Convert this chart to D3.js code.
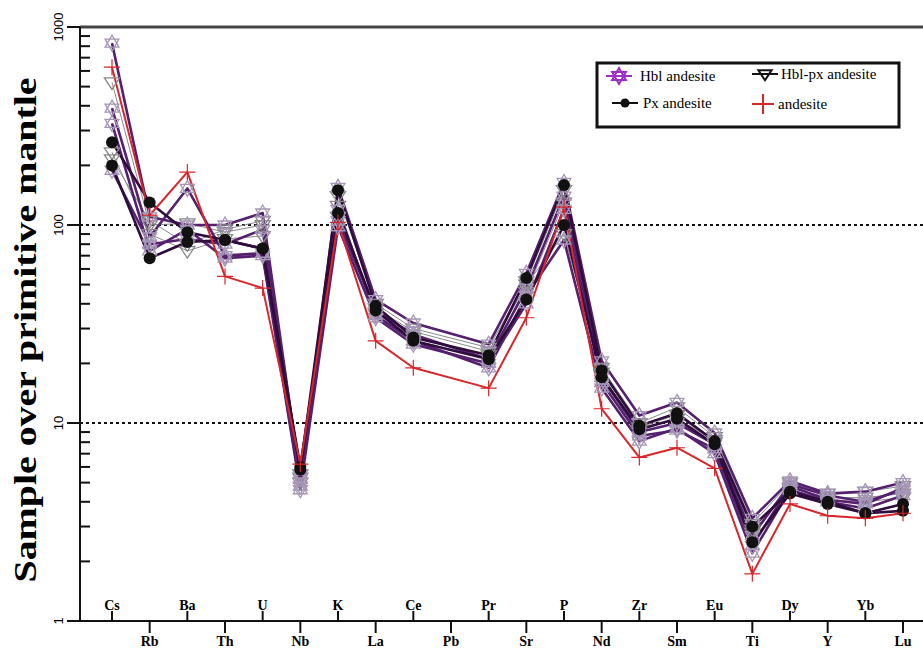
<!DOCTYPE html>
<html>
<head>
<meta charset="utf-8">
<script src="https://cdn.jsdelivr.net/npm/d3@7"></script>
<style>
  body { margin: 0; background: #fff; }
  svg { display: block; }
</style>
</head>
<body>
<svg></svg>
<script>
// element order on the spider diagram (Pb has no data)
var elements = ["Cs", "Rb", "Ba", "Th", "U", "Nb", "K", "La", "Ce", "Pb", "Pr", "Sr",
                "P", "Nd", "Zr", "Sm", "Eu", "Ti", "Dy", "Y", "Yb", "Lu"];
var upperLabels = ["Cs", "Ba", "U", "K", "Ce", "Pr", "P", "Zr", "Eu", "Dy", "Yb"];
var yMajorTicks = [1, 10, 100, 1000];

// Hbl andesite samples
var hbl1 = [829, 110, 100, 100, 115, 5.2, 155, 42, 32, null, 25, 57, 164, 20.6, 10.9, 12.7, 8.9, 3.3, 5.1, 4.4, 4.5, 5.0];
var hbl2 = [389, 87, 153, 70, 72, 4.8, 120, 35, 26, null, 19, 44, 84, 15, 8.1, 9.4, 7.0, 2.2, 4.6, 4.0, 3.7, 4.3];
var hbl3 = [326, 74, 95, 68, 70, 4.6, 98, 34, 25, null, 20, 40, 120, 16, 8.6, 9.2, 7.4, 2.4, 4.8, 4.1, 3.9, 4.7];
var hbl4 = [189, 80, 85, 80, 95, 5.5, 105, 37, 28, null, 21, 48, 140, 17, 9.0, 10, 7.8, 2.7, 4.9, 4.3, 4.0, 4.6];
// Hbl-px andesite samples
var hblpx1 = [526, 100, 102, 92, 100, 5.5, 140, 40, 30, null, 24, 52, 150, 19, 10, 12, 8.5, 3.1, 5.0, 4.4, 4.5, 4.8];
var hblpx2 = [233, 90, 74, 85, 88, 5.0, 110, 38, 29, null, 23, 50, 90, 18, 9.5, 11, 8.0, 2.8, 4.7, 4.2, 4.2, 4.4];
var hblpx3 = [215, 105, 80, 95, 105, 5.3, 125, 36, 27, null, 22, 46, 130, 17.5, 9.2, 10.5, 8.2, 2.9, 4.6, 4.1, 4.0, 4.2];
// Px andesite samples
var px1 = [262, 130, 92, 84, 76, 5.8, 150, 39, 27, null, 22, 54, 159, 18.4, 9.7, 11.2, 8.1, 3.0, 4.5, 4.0, 3.5, 3.9];
var px2 = [200, 68, 82, 84, 76, 6.0, 115, 37, 26, null, 21, 42, 100, 17, 9.3, 10.5, 7.8, 2.5, 4.4, 3.9, 3.5, 3.6];
// andesite
var andesite1 = [627, 112, 185, 55, 48, 6.2, 103, 26, 19, null, 15, 34, 123, 11.8, 6.7, 7.5, 5.9, 1.73, 3.9, 3.4, 3.3, 3.5];

var svgWidth = 923, svgHeight = 653;
var svg = d3.select("svg").attr("width", svgWidth).attr("height", svgHeight);

var x = d3.scalePoint().domain(elements).range([112, 903]);
var y = d3.scaleLog().domain([1, 1000]).range([621, 27]);
var axisLeft = 80, axisRight = 923;
var serif = "'Liberation Serif', 'Times New Roman', serif";

function hexagram(r) {
    var h = r * 0.866;
    return "M0," + (-r) + "L" + h + "," + (r / 2) + "L" + (-h) + "," + (r / 2) + "Z" +
           "M0," + r + "L" + h + "," + (-r / 2) + "L" + (-h) + "," + (-r / 2) + "Z";
}
function downTriangle(r) {
    var h = r * 0.95;
    return "M" + (-h) + "," + (-r * 0.55) + "L" + h + "," + (-r * 0.55) + "L0," + (r * 0.9) + "Z";
}
function plusSign(r) {
    return "M" + (-r) + ",0L" + r + ",0M0," + (-r) + "L0," + r;
}

function points(values) {
    var pts = [];
    values.forEach(function (v, i) {
        if (v != null) pts.push([elements[i], v]);
    });
    return pts;
}

var line = d3.line()
    .x(function (d) { return x(d[0]); })
    .y(function (d) { return y(d[1]); });

// dotted reference lines at 10 and 100
svg.selectAll("line.ref").data([10, 100]).enter()
    .append("line")
    .attr("class", "ref")
    .attr("x1", axisLeft).attr("x2", axisRight)
    .attr("y1", function (d) { return y(d); })
    .attr("y2", function (d) { return y(d); })
    .attr("stroke", "#111")
    .attr("stroke-width", 2)
    .attr("stroke-dasharray", "3,3");

// top frame
svg.append("line")
    .attr("x1", axisLeft).attr("x2", axisRight)
    .attr("y1", y(1000)).attr("y2", y(1000))
    .attr("stroke", "#444").attr("stroke-width", 3);

var groups = [
    { name: "hblpx", data: [hblpx1, hblpx2, hblpx3], color: "#8a8a8a", width: 1, marker: "tri", mcolor: "#888" },
    { name: "hbl", data: [hbl1, hbl2, hbl3, hbl4], color: "#55206e", width: 2.6, marker: "hex", mcolor: "#a596b6" },
    { name: "px", data: [px1, px2], color: "#2e0d3c", width: 2.6, marker: "dot", mcolor: "#111" },
    { name: "and", data: [andesite1], color: "#d8262a", width: 2, marker: "plus", mcolor: "#d8262a" }
];

function drawMarkers(g, grp, pts) {
    if (grp.marker === "dot") {
        g.selectAll(null).data(pts).enter()
            .append("circle")
            .attr("cx", function (d) { return x(d[0]); })
            .attr("cy", function (d) { return y(d[1]); })
            .attr("r", 6)
            .attr("fill", grp.mcolor);
        return;
    }
    g.selectAll(null).data(pts).enter()
        .append("path")
        .attr("transform", function (d) { return "translate(" + x(d[0]) + "," + y(d[1]) + ")"; })
        .attr("d", grp.marker === "hex" ? hexagram(8) : grp.marker === "tri" ? downTriangle(8) : plusSign(8))
        .attr("fill", "none")
        .attr("stroke", grp.mcolor)
        .attr("stroke-width", grp.marker === "plus" ? 1.2 : 1.3);
}

groups.forEach(function (grp) {
    var g = svg.append("g").attr("class", "lines-" + grp.name);
    g.selectAll("path").data(grp.data).enter()
        .append("path")
        .attr("d", function (s) { return line(points(s)); })
        .attr("fill", "none")
        .attr("stroke", grp.color)
        .attr("stroke-width", grp.width)
        .attr("stroke-linejoin", "round");
});

// markers drawn over the lines
groups.forEach(function (grp) {
    var g = svg.append("g").attr("class", "markers-" + grp.name);
    grp.data.forEach(function (s) { drawMarkers(g, grp, points(s)); });
});

// y axis
svg.append("line")
    .attr("x1", axisLeft).attr("x2", axisLeft)
    .attr("y1", y(1000)).attr("y2", y(1))
    .attr("stroke", "#111").attr("stroke-width", 2);

var minor = y.ticks().filter(function (d) { return yMajorTicks.indexOf(d) < 0; });
svg.selectAll("line.minor").data(minor).enter()
    .append("line")
    .attr("class", "minor")
    .attr("x1", axisLeft).attr("x2", axisLeft + 10)
    .attr("y1", function (d) { return y(d); })
    .attr("y2", function (d) { return y(d); })
    .attr("stroke", "#111").attr("stroke-width", 2);

svg.selectAll("line.major").data(yMajorTicks).enter()
    .append("line")
    .attr("class", "major")
    .attr("x1", axisLeft - 13).attr("x2", axisLeft)
    .attr("y1", function (d) { return y(d); })
    .attr("y2", function (d) { return y(d); })
    .attr("stroke", "#111").attr("stroke-width", 2);

svg.selectAll("text.ylab").data(yMajorTicks).enter()
    .append("text")
    .attr("class", "ylab")
    .text(function (d) { return d; })
    .attr("transform", function (d) { return "translate(63," + y(d) + ") rotate(-90)"; })
    .attr("text-anchor", "middle")
    .attr("font-family", "'Liberation Sans', Arial, sans-serif")
    .attr("font-size", 13);

svg.append("text")
    .text("Sample over primitive mantle")
    .attr("transform", "translate(36,330) rotate(-90)")
    .attr("text-anchor", "middle")
    .attr("font-family", serif)
    .attr("font-weight", "bold")
    .attr("font-size", 32)
    .attr("textLength", 505)
    .attr("lengthAdjust", "spacingAndGlyphs");

// x axis
svg.append("line")
    .attr("x1", axisLeft).attr("x2", axisRight)
    .attr("y1", y(1)).attr("y2", y(1))
    .attr("stroke", "#111").attr("stroke-width", 2);

function isUpper(d) { return upperLabels.indexOf(d) >= 0; }

svg.selectAll("line.xtick").data(elements).enter()
    .append("line")
    .attr("class", "xtick")
    .attr("x1", function (d) { return x(d); })
    .attr("x2", function (d) { return x(d); })
    .attr("y1", y(1))
    .attr("y2", function (d) { return isUpper(d) ? y(1) - 10 : y(1) + 12; })
    .attr("stroke", "#111").attr("stroke-width", 2);

svg.selectAll("text.xlab").data(elements).enter()
    .append("text")
    .attr("class", "xlab")
    .text(function (d) { return d; })
    .attr("x", function (d) { return x(d); })
    .attr("y", function (d) { return isUpper(d) ? y(1) - 11 : y(1) + 25; })
    .attr("text-anchor", "middle")
    .attr("font-family", serif)
    .attr("font-weight", "bold")
    .attr("font-size", 14);

// legend
var legendItems = [
    { label: "Hbl andesite", marker: "hex", color: "#9b2fc6", lx: 606, ly: 76, tx: 640 },
    { label: "Hbl-px andesite", marker: "tri", color: "#111", lx: 752, ly: 74, tx: 781 },
    { label: "Px andesite", marker: "dot", color: "#111", lx: 612, ly: 103, tx: 643 },
    { label: "andesite", marker: "plus", color: "#d8262a", lx: 752, ly: 104, tx: 778 }
];
var legend = svg.append("g").attr("class", "legend");
legend.append("rect")
    .attr("x", 597).attr("y", 63).attr("width", 302).attr("height", 64)
    .attr("fill", "#fff").attr("stroke", "#111").attr("stroke-width", 3);

legendItems.forEach(function (it) {
    var w = it.marker === "plus" ? 22 : 26;
    legend.append("line")
        .attr("x1", it.lx).attr("x2", it.lx + w)
        .attr("y1", it.ly).attr("y2", it.ly)
        .attr("stroke", it.color).attr("stroke-width", 2);
    var cx = it.lx + w / 2;
    if (it.marker === "dot") {
        legend.append("circle").attr("cx", cx).attr("cy", it.ly).attr("r", 4.5).attr("fill", it.color);
    } else {
        legend.append("path")
            .attr("transform", "translate(" + cx + "," + it.ly + ")")
            .attr("d", it.marker === "hex" ? hexagram(8) : it.marker === "tri" ? downTriangle(7) : plusSign(10))
            .attr("fill", "none")
            .attr("stroke", it.color)
            .attr("stroke-width", 2);
    }
    legend.append("text")
        .text(it.label)
        .attr("x", it.tx).attr("y", it.ly + 5)
        .attr("font-family", serif)
        .attr("font-size", 15);
});
</script>
</body>
</html>
